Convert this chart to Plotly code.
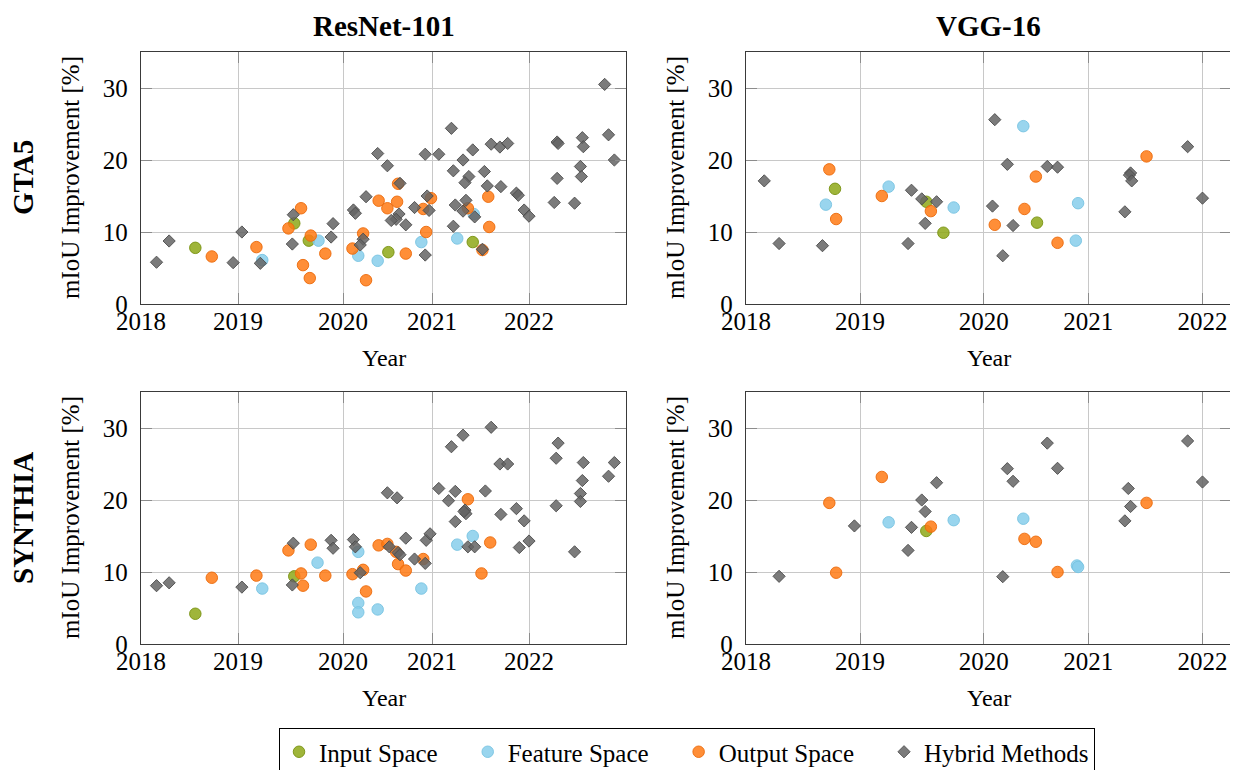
import plotly.graph_objects as go

# The page body adds an 8px offset; the figure is sized/positioned to compensate.
OFF = 8
W, H = 1238 - OFF, 770 - OFF

# ---------------- data ----------------
categories = ["Input Space", "Feature Space", "Output Space", "Hybrid Methods"]

# GTA5 / ResNet-101
gta_res_input_x = [2018.56, 2019.58, 2019.73, 2020.55, 2021.42]
gta_res_input_y = [7.8, 11.2, 8.8, 7.2, 8.6]
gta_res_feat_x = [2019.25, 2019.83, 2020.24, 2020.44, 2020.89, 2021.26, 2021.43]
gta_res_feat_y = [6.1, 8.8, 6.7, 6.0, 8.6, 9.1, 12.5]
gta_res_out_x = [2018.73, 2019.19, 2019.52, 2019.65, 2019.75, 2019.90, 2019.67, 2019.74,
                 2020.18, 2020.29, 2020.32, 2020.45, 2020.54, 2020.64, 2020.65, 2020.73,
                 2020.91, 2020.94, 2020.99, 2021.37, 2021.52, 2021.58, 2021.59]
gta_res_out_y = [6.6, 7.9, 10.5, 13.3, 9.5, 7.0, 5.4, 3.6, 7.7, 9.8, 3.3, 14.35, 13.3, 14.2,
                 16.7, 7.0, 13.2, 10.0, 14.7, 13.3, 7.5, 14.9, 10.7]
gta_res_hyb_x = [2018.16, 2018.29, 2018.95, 2019.04, 2019.23, 2019.57, 2019.56, 2019.98, 2019.96,
                 2020.19, 2020.21, 2020.32, 2020.29, 2020.26, 2020.44, 2020.54, 2020.67, 2020.93,
                 2021.07, 2021.20, 2021.32, 2021.42, 2021.61, 2021.70, 2021.78, 2021.22, 2021.38,
                 2021.34, 2021.54, 2021.57, 2021.71, 2021.87, 2021.89, 2020.95, 2020.97, 2020.82,
                 2020.66, 2020.63, 2020.58, 2020.73, 2020.93, 2021.24, 2021.32, 2021.35, 2021.44,
                 2021.22, 2021.52, 2021.95, 2022.00, 2022.26, 2022.47, 2022.29, 2022.30, 2022.29,
                 2022.55, 2022.56, 2022.53, 2022.54, 2022.78, 2022.82, 2022.88]
gta_res_hyb_y = [5.8, 8.75, 5.74, 10.0, 5.65, 12.4, 8.33, 11.16, 9.3,
                 13.06, 12.6, 14.9, 9.0, 8.2, 20.9, 19.2, 16.76, 20.8,
                 20.8, 24.4, 20.0, 21.4, 22.2, 21.8, 22.3, 18.5, 17.7,
                 16.85, 18.4, 16.4, 16.3, 15.4, 15.1, 15.0, 13.0, 13.4,
                 12.5, 11.76, 11.6, 11.0, 6.8, 13.75, 12.9, 14.4, 12.1,
                 10.8, 7.6, 13.05, 12.2, 14.1, 14.0, 22.5, 22.3, 17.45,
                 23.1, 21.85, 19.1, 17.7, 30.5, 23.5, 20.0]

# GTA5 / VGG-16
gta_vgg_input_x = [2018.78, 2019.58, 2019.73, 2020.55]
gta_vgg_input_y = [16.0, 14.2, 9.9, 11.3]
gta_vgg_feat_x = [2018.70, 2019.25, 2019.82, 2020.43, 2020.91, 2020.89]
gta_vgg_feat_y = [13.8, 16.3, 13.4, 24.7, 14.0, 8.8]
gta_vgg_out_x = [2018.73, 2018.79, 2019.19, 2019.62, 2020.18, 2020.54, 2020.44, 2020.73, 2021.51]
gta_vgg_out_y = [18.7, 11.8, 15.0, 12.9, 11.0, 17.7, 13.2, 8.5, 20.5]
gta_vgg_hyb_x = [2018.16, 2018.29, 2018.67, 2019.42, 2019.45, 2019.54, 2019.67, 2019.57, 2020.18,
                 2020.29, 2020.64, 2020.73, 2020.16, 2020.34, 2020.25, 2021.37, 2021.36, 2021.38,
                 2021.32, 2021.87, 2022.00]
gta_vgg_hyb_y = [17.1, 8.4, 8.1, 8.4, 15.8, 14.6, 14.2, 11.2, 25.6,
                 19.4, 19.1, 19.0, 13.6, 10.9, 6.7, 18.2, 17.9, 17.1,
                 12.8, 21.85, 14.7]

# SYNTHIA / ResNet-101
syn_res_input_x = [2018.56, 2019.58]
syn_res_input_y = [4.2, 9.4]
syn_res_feat_x = [2019.25, 2019.82, 2020.24, 2020.24, 2020.24, 2020.44, 2020.89, 2021.26, 2021.42]
syn_res_feat_y = [7.7, 11.3, 12.8, 5.7, 4.4, 4.8, 7.7, 13.8, 15.0]
syn_res_out_x = [2018.73, 2019.19, 2019.52, 2019.75, 2019.65, 2019.67, 2019.90, 2020.18, 2020.29,
                 2020.32, 2020.45, 2020.54, 2020.63, 2020.65, 2020.73, 2020.91, 2021.37, 2021.51,
                 2021.60]
syn_res_out_y = [9.2, 9.5, 13.0, 13.8, 9.8, 8.1, 9.5, 9.7, 10.3,
                 7.3, 13.7, 13.9, 12.8, 11.1, 10.2, 11.8, 20.1, 9.8,
                 14.1]
syn_res_hyb_x = [2018.16, 2018.29, 2019.04, 2019.57, 2019.56, 2019.96, 2019.98, 2020.19, 2020.21,
                 2020.26, 2020.54, 2020.64, 2020.73, 2020.94, 2020.98, 2020.56, 2020.65, 2020.67,
                 2020.82, 2020.93, 2021.07, 2021.20, 2021.32, 2021.17, 2021.24, 2021.24, 2021.34,
                 2021.35, 2021.33, 2021.55, 2021.61, 2021.70, 2021.78, 2021.71, 2021.87, 2021.95,
                 2021.90, 2022.00, 2021.37, 2021.44, 2022.30, 2022.28, 2022.28, 2022.47, 2022.56,
                 2022.55, 2022.53, 2022.53, 2022.82, 2022.88]
syn_res_hyb_y = [8.1, 8.5, 7.9, 14.0, 8.2, 14.4, 13.3, 14.5, 13.5,
                 9.9, 21.0, 20.3, 14.7, 14.4, 15.3, 13.5, 12.7, 12.4,
                 11.8, 11.2, 21.6, 27.4, 29.0, 19.9, 21.2, 17.0, 18.6,
                 18.1, 18.4, 21.25, 30.1, 25.0, 25.0, 18.0, 18.8, 17.1,
                 13.4, 14.3, 13.5, 13.5, 27.9, 25.8, 19.2, 12.8, 25.2,
                 22.7, 20.9, 19.8, 23.3, 25.2]

# SYNTHIA / VGG-16
syn_vgg_input_x = [2019.58]
syn_vgg_input_y = [15.7]
syn_vgg_feat_x = [2019.25, 2019.82, 2020.43, 2020.90, 2020.91]
syn_vgg_feat_y = [16.9, 17.2, 17.4, 10.9, 10.7]
syn_vgg_out_x = [2018.73, 2018.79, 2019.19, 2019.62, 2020.44, 2020.54, 2020.73, 2021.51]
syn_vgg_out_y = [19.6, 9.9, 23.2, 16.3, 14.6, 14.2, 10.0, 19.6]
syn_vgg_hyb_x = [2018.29, 2018.95, 2019.42, 2019.45, 2019.54, 2019.57, 2019.67, 2020.25, 2020.29,
                 2020.34, 2020.64, 2020.73, 2021.35, 2021.37, 2021.32, 2021.87, 2022.00]
syn_vgg_hyb_y = [9.4, 16.4, 13.0, 16.2, 20.0, 18.4, 22.4, 9.35, 24.35,
                 22.6, 27.9, 24.4, 21.6, 19.1, 17.1, 28.2, 22.5]

year_tick_vals = [2018, 2019, 2020.083, 2021, 2022]
year_tick_text = ["2018", "2019", "2020", "2021", "2022"]
y_tick_vals = [0, 10, 20, 30]

col_titles = ["ResNet-101", "VGG-16"]
row_titles = ["GTA5", "SYNTHIA"]

# ---------------- styling ----------------
FONT = "Liberation Serif"
fills = ["rgba(142,168,24,0.85)", "rgba(135,206,235,0.85)", "rgba(255,122,20,0.85)", "rgba(100,100,100,0.85)"]
edges = ["rgba(120,145,15,0.9)", "rgba(120,195,225,0.9)", "rgba(235,105,10,0.9)", "rgba(75,75,75,0.9)"]
symbols = ["circle", "circle", "circle", "diamond"]
sizes = [11.5, 11.5, 11.5, 9.4]
PAD = "\u00a0" * 4
legend_names = ["Input Space" + PAD, "Feature Space" + PAD, "Output Space" + PAD, "Hybrid Methods"]

panels = [
    [(gta_res_input_x, gta_res_input_y), (gta_res_feat_x, gta_res_feat_y),
     (gta_res_out_x, gta_res_out_y), (gta_res_hyb_x, gta_res_hyb_y)],
    [(gta_vgg_input_x, gta_vgg_input_y), (gta_vgg_feat_x, gta_vgg_feat_y),
     (gta_vgg_out_x, gta_vgg_out_y), (gta_vgg_hyb_x, gta_vgg_hyb_y)],
    [(syn_res_input_x, syn_res_input_y), (syn_res_feat_x, syn_res_feat_y),
     (syn_res_out_x, syn_res_out_y), (syn_res_hyb_x, syn_res_hyb_y)],
    [(syn_vgg_input_x, syn_vgg_input_y), (syn_vgg_feat_x, syn_vgg_feat_y),
     (syn_vgg_out_x, syn_vgg_out_y), (syn_vgg_hyb_x, syn_vgg_hyb_y)],
]

# pixel boxes of the plot areas (in screen pixels)
col_px = [(141, 626), (746, 1231)]
row_px = [(52, 304), (392, 644)]
x_ranges = [[2018, 2023], [2018, 2022.25]]


def px(x):
    return (x - OFF) / W


def py(y):
    return 1 - (y - OFF) / H


fig = go.Figure()

for p, series in enumerate(panels):
    suffix = "" if p == 0 else str(p + 1)
    for k, (xs, ys) in enumerate(series):
        fig.add_trace(go.Scatter(
            x=xs, y=ys, mode="markers", name=legend_names[k],
            legendgroup=categories[k], showlegend=(p == 0),
            marker=dict(symbol=symbols[k], size=sizes[k], color=fills[k],
                        line=dict(color=edges[k], width=1)),
            xaxis="x" + suffix, yaxis="y" + suffix,
        ))

axis_common = dict(
    showline=True, linecolor="#3a3a3a", linewidth=1.4, mirror="ticks",
    showgrid=True, gridcolor="#c8c8c8", gridwidth=1,
    ticks="inside", ticklen=11, tickwidth=1.3, tickcolor="#8c8c8c",
    zeroline=False, automargin=False,
    tickfont=dict(family=FONT, size=25, color="black"),
)

layout = dict(
    width=W, height=H, margin=dict(l=0, r=0, t=0, b=0, autoexpand=False),
    paper_bgcolor="white", plot_bgcolor="white",
    font=dict(family=FONT, color="black"),
    showlegend=True,
    legend=dict(orientation="h", x=px(279), xanchor="left", y=py(728), yanchor="top",
                bordercolor="black", borderwidth=1, bgcolor="white",
                font=dict(family=FONT, size=25, color="black"),
                itemwidth=30, tracegroupgap=0),
)

annotations = []
for p in range(4):
    r, c = divmod(p, 2)
    suffix = "" if p == 0 else str(p + 1)
    x0, x1 = col_px[c]
    y0, y1 = row_px[r]
    layout["xaxis" + suffix] = dict(
        axis_common, domain=[px(x0), px(x1)], range=x_ranges[c],
        tickvals=year_tick_vals, ticktext=year_tick_text,
        anchor="y" + suffix, ticklabelstandoff=-5,
    )
    layout["yaxis" + suffix] = dict(
        axis_common, domain=[py(y1), py(y0)], range=[0, 35],
        tickvals=y_tick_vals, anchor="x" + suffix, ticklabelstandoff=7,
    )
    annotations.append(dict(text="Year", x=px((x0 + x1) / 2), y=py(y1 + 53.5),
                            xref="paper", yref="paper", showarrow=False,
                            xanchor="center", yanchor="middle",
                            font=dict(family=FONT, size=24)))
    annotations.append(dict(text="mIoU Improvement [%]", x=px(x0 - 71),
                            y=py((y0 + y1) / 2),
                            xref="paper", yref="paper", showarrow=False, textangle=-90,
                            xanchor="center", yanchor="middle",
                            font=dict(family=FONT, size=25)))

for c, t in enumerate(col_titles):
    x0, x1 = col_px[c]
    annotations.append(dict(text="<b>%s</b>" % t, x=px((x0 + x1) / 2), y=py(8),
                            xref="paper", yref="paper", showarrow=False,
                            xanchor="center", yanchor="top",
                            font=dict(family=FONT, size=29)))
for r, t in enumerate(row_titles):
    y0, y1 = row_px[r]
    annotations.append(dict(text="<b>%s</b>" % t, x=px(23), y=py((y0 + y1) / 2),
                            xref="paper", yref="paper", showarrow=False, textangle=-90,
                            xanchor="center", yanchor="middle",
                            font=dict(family=FONT, size=29)))

layout["annotations"] = annotations
fig.update_layout(**layout)
fig.write_html("out.html")
